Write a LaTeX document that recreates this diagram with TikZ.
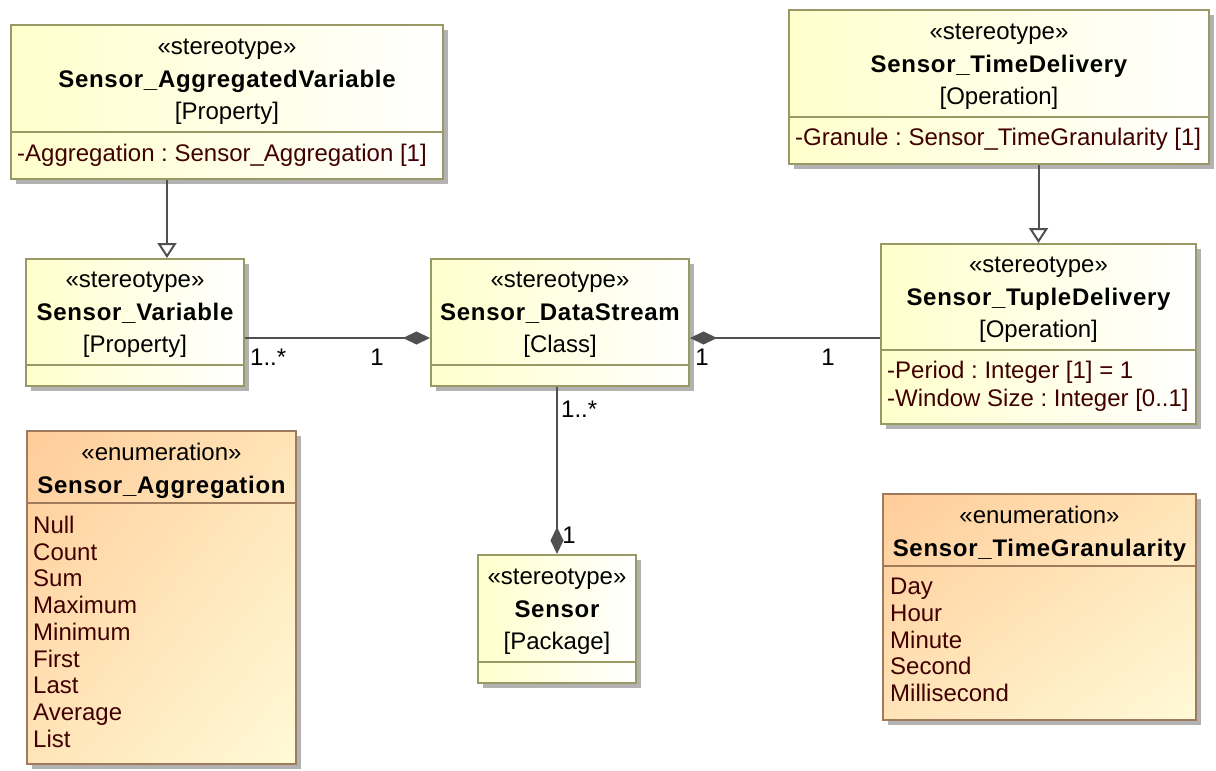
\documentclass[tikz,border=0pt]{standalone}
\usepackage{fontspec}
\setmainfont{Liberation Sans}
\newfontfamily\namefont{Liberation Sans}[LetterSpace=3.0]
\usetikzlibrary{positioning, arrows.meta, shadows, shadings, calc}
\definecolor{clsfill}{RGB}{255,255,204}
\definecolor{clsborder}{RGB}{153,153,102}
\definecolor{enumtop}{RGB}{255,204,153}
\definecolor{enummid}{RGB}{255,228,184}
\definecolor{enumbottom}{RGB}{255,250,215}
\definecolor{enumborder}{RGB}{160,122,92}
\definecolor{attrtext}{RGB}{64,0,0}
\definecolor{linkgray}{RGB}{80,80,80}
\newcommand{\UmlName}[1]{{\namefont\bfseries #1}}
\frenchspacing
\tikzset{
    every node/.append style={font=\fontsize{24}{32.5}\selectfont},
    classbox/.style={draw=clsborder, line width=2pt, left color=clsfill, right color=white,
      drop shadow={shadow xshift=5pt, shadow yshift=-5pt, fill=black!30, opacity=1},
      inner sep=0pt, anchor=north west},
    enumbox/.style={draw=enumborder, line width=2pt, upper left=enumtop, upper right=enummid,
      lower left=enummid, lower right=enumbottom,
      drop shadow={shadow xshift=5pt, shadow yshift=-5pt, fill=black!30, opacity=1},
      inner sep=0pt, anchor=north west},
    compline/.style={draw=clsborder, line width=2pt},
    enumline/.style={draw=enumborder, line width=2pt},
    title/.style={align=center, inner sep=0pt},
    attr/.style={anchor=west, align=left, inner sep=0pt, text=attrtext},
    items/.style={anchor=north west, align=left, inner sep=0pt, text=attrtext,
      font=\fontsize{24}{26.7}\selectfont},
    mult/.style={inner sep=0pt},
    gen/.style={draw=linkgray, line width=2pt,
      -{Triangle[open, fill=white, length=15pt, width=19pt]}},
    comp/.style={draw=linkgray, line width=2pt,
      -{Diamond[length=27pt, width=13pt, fill=linkgray]}},
    compstart/.style={draw=linkgray, line width=2pt,
      {Diamond[length=27pt, width=13pt, fill=linkgray]}-},
}
\begin{document}
\begin{tikzpicture}[x=1pt, y=-1pt]
    \path[use as bounding box, fill=white] (0,0) rectangle (1216,771);

    % stereotypes
    \node[classbox, minimum width=432pt, minimum height=154pt] (aggvar) at (10,24) {};
    \node[classbox, minimum width=420pt, minimum height=154pt] (timedel) at (788,9) {};
    \node[classbox, minimum width=218pt, minimum height=127pt] (var) at (25,258) {};
    \node[classbox, minimum width=258pt, minimum height=127pt] (stream) at (430,258) {};
    \node[classbox, minimum width=315pt, minimum height=180pt] (tuple) at (880,243) {};
    \node[classbox, minimum width=158pt, minimum height=128pt] (sensor) at (477,554) {};

    % enumerations
    \node[enumbox, minimum width=269pt, minimum height=333pt] (aggenum) at (26,430) {};
    \node[enumbox, minimum width=313pt, minimum height=226pt] (granenum) at (882,493) {};

    \draw[compline] ([yshift=-108pt]aggvar.north west) -- ([yshift=-108pt]aggvar.north east);
    \draw[compline] ([yshift=-108pt]timedel.north west) -- ([yshift=-108pt]timedel.north east);
    \draw[compline] ([yshift=-107pt]var.north west) -- ([yshift=-107pt]var.north east);
    \draw[compline] ([yshift=-107pt]stream.north west) -- ([yshift=-107pt]stream.north east);
    \draw[compline] ([yshift=-107pt]tuple.north west) -- ([yshift=-107pt]tuple.north east);
    \draw[compline] ([yshift=-108pt]sensor.north west) -- ([yshift=-108pt]sensor.north east);
    \draw[enumline] ([yshift=-73pt]aggenum.north west) -- ([yshift=-73pt]aggenum.north east);
    \draw[enumline] ([yshift=-73pt]granenum.north west) -- ([yshift=-73pt]granenum.north east);

    \node[title] (aggvar-name) at ([yshift=-58pt]aggvar.north)
      {«stereotype»\\\UmlName{Sensor\_AggregatedVariable}\\{[Property]}};
    \node[title] (timedel-name) at ([yshift=-58pt]timedel.north)
      {«stereotype»\\\UmlName{Sensor\_TimeDelivery}\\{[Operation]}};
    \node[title] (var-name) at ([yshift=-57pt]var.north)
      {«stereotype»\\\UmlName{Sensor\_Variable}\\{[Property]}};
    \node[title] (stream-name) at ([yshift=-57pt]stream.north)
      {«stereotype»\\\UmlName{Sensor\_DataStream}\\{[Class]}};
    \node[title] (tuple-name) at ([yshift=-57pt]tuple.north)
      {«stereotype»\\\UmlName{Sensor\_TupleDelivery}\\{[Operation]}};
    \node[title] (sensor-name) at ([yshift=-58pt]sensor.north)
      {«stereotype»\\\UmlName{Sensor}\\{[Package]}};
    \node[title] (aggenum-name) at ([yshift=-41pt]aggenum.north)
      {«enumeration»\\\UmlName{Sensor\_Aggregation}};
    \node[title] (granenum-name) at ([yshift=-41pt]granenum.north)
      {«enumeration»\\\UmlName{Sensor\_TimeGranularity}};

    \node[attr] (aggvar-attr) at (17,155) {-Aggregation : Sensor\_Aggregation [1]};
    \node[attr] (timedel-attr) at (795,139) {-Granule : Sensor\_TimeGranularity [1]};
    \node[attr, font=\fontsize{24}{28}\selectfont] (tuple-attr) at (887,386)
      {-Period : Integer [1] = 1\\-Window Size : Integer [0..1]};
    \node[items] (aggenum-items) at (33,516)
      {Null\\Count\\Sum\\Maximum\\Minimum\\First\\Last\\Average\\List};
    \node[items] (granenum-items) at (890,578)
      {Day\\Hour\\Minute\\Second\\Millisecond};

    % generalizations
    \coordinate (g1) at ([xshift=-60pt]aggvar.south);
    \draw[gen] (g1) -- (g1 |- var.north);
    \draw[gen] (tuple.north |- timedel.south) -- (tuple.north);

    % compositions
    \draw[comp] ([yshift=-15.5pt]var.east) -- ([yshift=-15.5pt]stream.west);
    \coordinate (s1) at ([yshift=-15.5pt]stream.east);
    \draw[compstart] (s1) -- (s1 -| tuple.west);
    \draw[comp] (sensor.north |- stream.south) -- (sensor.north);

    \node[mult, anchor=west] (m1) at (250,357) {1..*};
    \node[mult] (m2) at (377,357) {1};
    \node[mult] (m3) at (702,357) {1};
    \node[mult] (m4) at (828,357) {1};
    \node[mult, anchor=west] (m5) at (561,409) {1..*};
    \node[mult] (m6) at (569,535) {1};
\end{tikzpicture}
\end{document}
